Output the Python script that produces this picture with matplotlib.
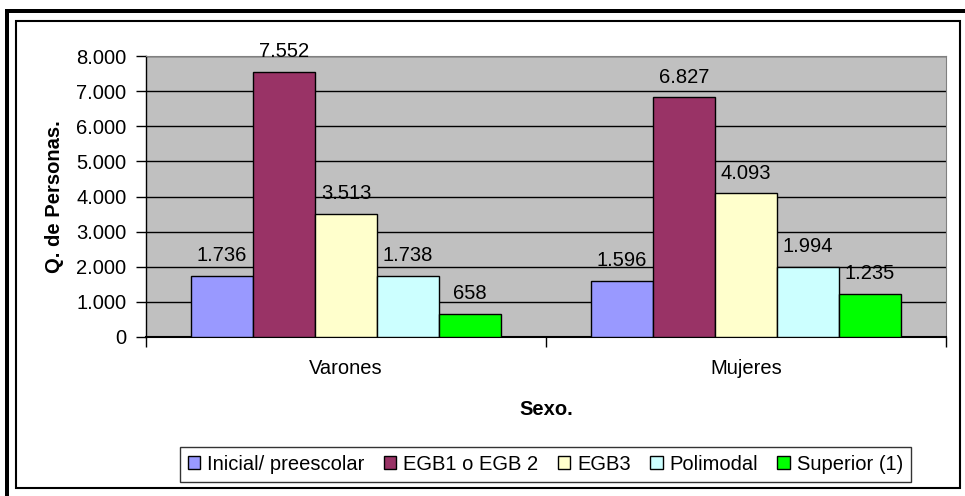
import matplotlib
matplotlib.use("Agg")
import matplotlib.pyplot as plt
import numpy as np
from matplotlib.patches import Rectangle

categories = ["Varones", "Mujeres"]
series_names = ["Inicial/ preescolar", "EGB1 o EGB 2", "EGB3", "Polimodal", "Superior (1)"]
inicial = [1736, 1596]
egb12 = [7552, 6827]
egb3 = [3513, 4093]
polimodal = [1738, 1994]
superior = [658, 1235]
series_values = [inicial, egb12, egb3, polimodal, superior]
colors = ["#9999FF", "#993366", "#FFFFCC", "#CCFFFF", "#00FF00"]
yticks = [0, 1000, 2000, 3000, 4000, 5000, 6000, 7000, 8000]

def fmt(v):
    return f"{v:,}".replace(",", ".")

plt.rcParams['font.family'] = ['Liberation Sans', 'DejaVu Sans']
FS = 14.5

W, H = 965, 496
fig = plt.figure(figsize=(W / 100, H / 100), dpi=100)

# borders
fig.patches.append(Rectangle((5 / W, 0), 4 / W, (H - 9) / H, transform=fig.transFigure,
                             facecolor="black", edgecolor="none"))
fig.patches.append(Rectangle((5 / W, (H - 13) / H), (W - 5) / W, 4 / H, transform=fig.transFigure,
                             facecolor="black", edgecolor="none"))
fig.patches.append(Rectangle((16 / W, (H - 488) / H), (960 - 16) / W, (488 - 21) / H,
                             transform=fig.transFigure, facecolor="none", edgecolor="black", lw=1.5))

ax = fig.add_axes([146 / W, (H - 337) / H, 800 / W, (337 - 56) / H])
ax.set_facecolor("#C0C0C0")
ax.set_xlim(-0.5, 1.5)
ax.set_ylim(0, 8000)

bw = 0.155
x = np.arange(len(categories))
n = len(series_names)
for i, (name, vals, c) in enumerate(zip(series_names, series_values, colors)):
    pos = x + (i - (n - 1) / 2) * bw
    ax.bar(pos, vals, width=bw, color=c, edgecolor="black", linewidth=1, label=name, zorder=3)
    for p, v in zip(pos, vals):
        ax.annotate(fmt(v), (p, v), xytext=(0, 10.5), textcoords="offset points",
                    ha="center", va="baseline", fontsize=FS, zorder=4)

ax.set_yticks(yticks)
ax.set_yticklabels([fmt(v) for v in yticks], fontsize=FS)
ax.yaxis.grid(True, color="black", linewidth=1, zorder=1)
ax.set_axisbelow(True)
ax.set_xticks([-0.5, 0.5, 1.5])
ax.set_xticklabels([])
ax.set_xticks(x, minor=True)
ax.set_xticklabels(categories, minor=True, fontsize=FS)
ax.tick_params(axis="x", which="minor", length=0, pad=16)
ax.tick_params(axis="x", which="major", length=7, width=1, direction="out")
ax.tick_params(axis="y", length=7, width=1, direction="out", pad=7)

for s in ["top", "right"]:
    ax.spines[s].set_color("#808080")
    ax.spines[s].set_linewidth(0.8)
ax.spines["left"].set_linewidth(1)
ax.spines["bottom"].set_linewidth(1.5)

ax.set_ylabel("Q. de Personas.", fontsize=FS, fontweight="bold", labelpad=9)
ax.set_xlabel("Sexo.", fontsize=FS, fontweight="bold", labelpad=16)

leg = fig.legend(loc="center", bbox_to_anchor=((183 + 908) / 2 / W, 1 - 464.5 / H), ncol=5,
                 fontsize=FS, frameon=True, fancybox=False, edgecolor="black",
                 handlelength=0.62, handleheight=0.62, handletextpad=0.35, columnspacing=0.95,
                 borderpad=0.4, borderaxespad=0)
leg.get_frame().set_linewidth(1)

fig.savefig("out.png", dpi=100)
